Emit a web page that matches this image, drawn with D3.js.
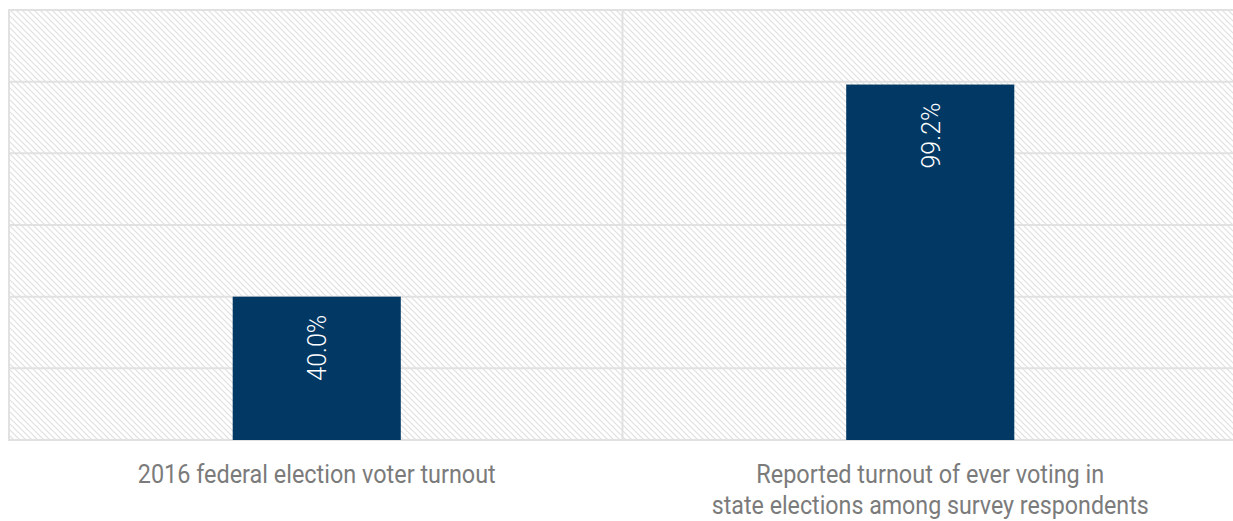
<!DOCTYPE html>
<html>
<head>
<meta charset="utf-8">
<script src="https://cdn.jsdelivr.net/npm/d3@7"></script>
<style>
  html, body { margin: 0; padding: 0; background: #fff; }
  svg { display: block; }
  text { font-family: "Roboto", "Liberation Sans", sans-serif; }
</style>
</head>
<body>
<svg id="chart" width="1233" height="521"></svg>
<script>
// Turnout comparison data
const categories = [
  "2016 federal election voter turnout",
  "Reported turnout of ever voting in state elections among survey respondents"
];
const categoryLines = [
  ["2016 federal election voter turnout"],
  ["Reported turnout of ever voting in", "state elections among survey respondents"]
];
const turnoutValues = [40.0, 99.2];
const valueLabels = ["40.0%", "99.2%"];
const yTicks = [0, 20, 40, 60, 80, 100, 120];
// widths of the category label lines, so the condensed face is kept
const lineWidths = [[358], [348, 437]];

const svg = d3.select("#chart");
const plot = { left: 9, right: 1236, top: 10, bottom: 440 };

const x = d3.scaleBand()
  .domain(categories)
  .range([plot.left, plot.right])
  .paddingInner(0).paddingOuter(0);

const y = d3.scaleLinear()
  .domain([0, 120])
  .range([plot.bottom, plot.top]);

// diagonal hatch fill for the plot background
const defs = svg.append("defs");
const pat = defs.append("pattern")
  .attr("id", "hatch")
  .attr("patternUnits", "userSpaceOnUse")
  .attr("width", 6).attr("height", 6);
pat.append("rect").attr("width", 6).attr("height", 6).attr("fill", "#ffffff");
pat.append("path")
  .attr("d", "M-1,-1 L7,7 M-7,-1 L1,7 M5,-1 L13,7")
  .attr("stroke", "#e0e0e0").attr("stroke-width", 1.2);

svg.append("rect")
  .attr("x", plot.left).attr("y", plot.top)
  .attr("width", plot.right - plot.left)
  .attr("height", plot.bottom - plot.top)
  .attr("fill", "url(#hatch)");

// horizontal gridlines
svg.append("g")
  .selectAll("line")
  .data(yTicks)
  .join("line")
  .attr("x1", plot.left).attr("x2", plot.right)
  .attr("y1", d => y(d)).attr("y2", d => y(d))
  .attr("stroke", "#e1e1e1").attr("stroke-width", 2);

// vertical separators between categories and at the left edge
const separators = [plot.left].concat(categories.slice(1).map(c => x(c)));
svg.append("g")
  .selectAll("line")
  .data(separators)
  .join("line")
  .attr("x1", d => d).attr("x2", d => d)
  .attr("y1", plot.top - 1).attr("y2", plot.bottom + 1)
  .attr("stroke", "#e1e1e1").attr("stroke-width", 2);

// bars
const barFrac = 0.274;
const barW = x.bandwidth() * barFrac;
const barX = c => x(c) + (x.bandwidth() - barW) / 2 + 1;

svg.append("g")
  .selectAll("rect")
  .data(categories)
  .join("rect")
  .attr("x", c => barX(c))
  .attr("y", (c, i) => y(turnoutValues[i]))
  .attr("width", barW)
  .attr("height", (c, i) => y(0) - y(turnoutValues[i]))
  .attr("fill", "#023864");

// rotated value labels inside the bars
svg.append("g")
  .selectAll("text")
  .data(categories)
  .join("text")
  .attr("transform", (c, i) =>
    `translate(${barX(c) + barW / 2 + 9.5},${y(turnoutValues[i]) + 18}) rotate(-90)`)
  .attr("text-anchor", "end")
  .attr("fill", "#ffffff")
  .attr("font-size", 26)
  .attr("font-weight", 300)
  .attr("textLength", 66)
  .attr("lengthAdjust", "spacingAndGlyphs")
  .text((c, i) => valueLabels[i]);

// category labels below the plot
const labels = svg.append("g")
  .selectAll("text")
  .data(categories)
  .join("text")
  .attr("text-anchor", "middle")
  .attr("fill", "#7b7b7b")
  .attr("font-size", 26);

labels.each(function (c, i) {
  const t = d3.select(this);
  categoryLines[i].forEach((line, j) => {
    t.append("tspan")
      .attr("x", x(c) + x.bandwidth() / 2 + 1)
      .attr("y", 483 + j * 31)
      .attr("textLength", lineWidths[i][j])
      .attr("lengthAdjust", "spacingAndGlyphs")
      .text(line);
  });
});
</script>
</body>
</html>
